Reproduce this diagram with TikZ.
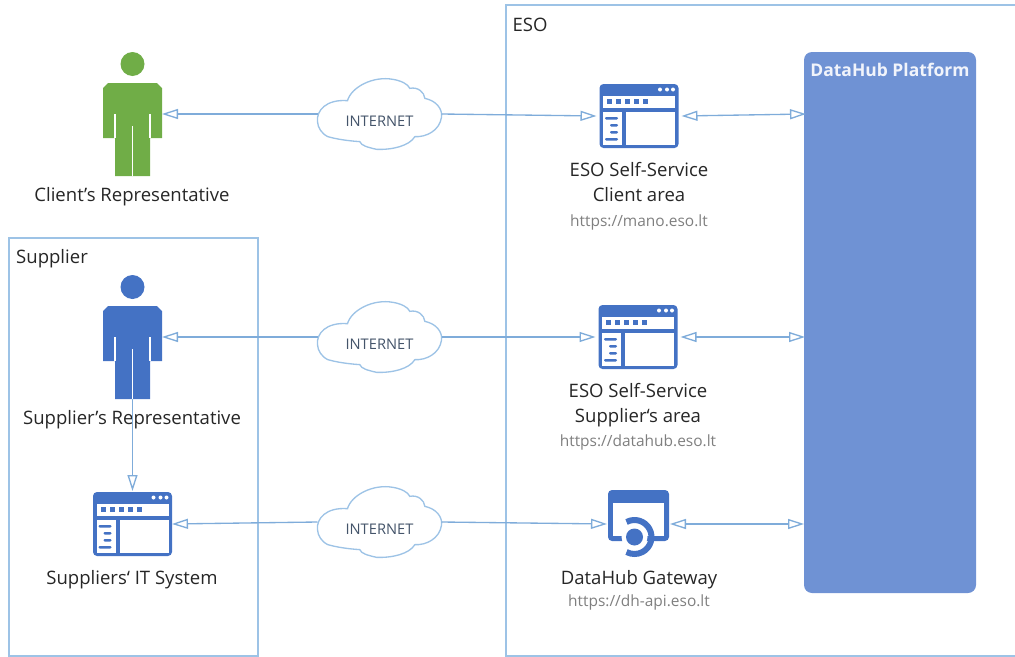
\documentclass[tikz,border=0pt]{standalone}
\usepackage{fontspec}
\setmainfont{Open Sans}
\usetikzlibrary{arrows.meta}
\definecolor{frameblue}{HTML}{9DC3E6}
\definecolor{linkblue}{HTML}{7FACDA}
\definecolor{iconblue}{HTML}{4472C4}
\definecolor{personblue}{HTML}{4472C4}
\definecolor{persongreen}{HTML}{70AD47}
\definecolor{platform}{HTML}{6F92D4}
\definecolor{labelgrey}{HTML}{7F7F7F}
\definecolor{cloudtext}{HTML}{44546A}
\newcommand{\mainsize}{\fontsize{13.9}{16}\selectfont}
\tikzset{
  x=0.75pt,y=-0.75pt,
  frame/.style={draw=frameblue,line width=1pt},
  anchorbox/.style 2 args={inner sep=0pt,outer sep=0pt,minimum width=#1*0.75pt,minimum height=#2*0.75pt},
  link/.style={draw=linkblue,line width=1pt,-{Triangle[open,length=12pt,width=7.5pt,fill=white]}},
  dlink/.style={draw=linkblue,line width=1pt,{Triangle[open,length=12pt,width=7.5pt,fill=white]}-{Triangle[open,length=12pt,width=7.5pt,fill=white]}},
  lbl/.style={inner sep=0pt,anchor=base,font=\mainsize,text=black!85},
  url/.style={inner sep=0pt,anchor=base,font=\fontsize{11.6}{13}\selectfont,text=labelgrey},
  cloudlbl/.style={inner sep=0pt,anchor=base,font=\fontsize{11}{13}\selectfont,text=cloudtext},
  windowicon/.pic={
    \fill[iconblue,rounded corners=3] (-39.5,-32) rectangle (39.5,32);
    \fill[white] (-36,-20) rectangle (36,-8);
    \fill[white] (-36,-4) rectangle (-17,29);
    \fill[white] (-13,-4) rectangle (36,29);
    \foreach \i in {0,1,2,3,4} \fill[iconblue] (-32+9*\i,-17) rectangle (-27+9*\i,-12);
    \foreach \i in {21,28,34} \fill[white] (\i,-26.5) circle (2);
    \fill[iconblue,rounded corners=0.8] (-34,1) rectangle (-21,3.5);
    \fill[iconblue,rounded corners=0.8] (-29,8) rectangle (-21,10.5);
    \fill[iconblue,rounded corners=0.8] (-29,15) rectangle (-21,17.5);
    \fill[iconblue,rounded corners=0.8] (-34,22) rectangle (-21,24.5);
  },
  gatewayicon/.pic={
    \fill[iconblue,rounded corners=3] (-30.5,-34) rectangle (30.5,17);
    \fill[white] (-25.5,-21) rectangle (25.5,12);
    \fill[white] (-4,13) circle (13);
    \fill[iconblue] (-4,13) circle (8.5);
    \draw[iconblue,line width=4.5pt] (-4,13) ++(-118:17) arc[start angle=-118,end angle=118,radius=17];
  },
  personicon/.pic={
    \fill[#1] (0,-50) circle (12);
    \fill[#1] (-24.5,-31) -- (24.5,-31) -- (29.5,-26) -- (29.5,24) -- (17.5,24) -- (17.5,62) -- (-17.5,62) -- (-17.5,24) -- (-29.5,24) -- (-29.5,-26) -- cycle;
    \draw[white,line width=0.8pt] (-17.5,0) -- (-17.5,24) (17.5,0) -- (17.5,24) (0,12) -- (0,62);
  },
  cloudicon/.pic={
    \draw[frameblue,line width=1pt,fill=white,scale=0.3333]
      (-186,23) .. controls (-190,-10) and (-160,-45) .. (-96,-40)
      .. controls (-85,-80) and (-20,-115) .. (40,-104)
      .. controls (65,-100) and (85,-90) .. (91,-77)
      .. controls (115,-82) and (135,-65) .. (136,-47)
      .. controls (170,-40) and (190,-15) .. (186,10)
      .. controls (180,50) and (140,70) .. (106,68)
      .. controls (90,95) and (40,108) .. (-9,106)
      .. controls (-35,100) and (-55,95) .. (-59,83)
      .. controls (-100,80) and (-130,75) .. (-155,68)
      .. controls (-175,58) and (-185,40) .. (-186,23) -- cycle;
  },
}
\begin{document}
\begin{tikzpicture}
\useasboundingbox (0,0) rectangle (1015,657);
% containers
\draw[frame] (1016,5) -- (506,5) -- (506,656) -- (1016,656);
\draw[frame] (9,656) rectangle (258,238);
\node[lbl] (esotitle) at (530,31) {ESO};
\node[lbl] (suptitle) at (52,263) {Supplier};
% platform
\node[anchorbox={172}{541},fill=platform,rounded corners=6] (dh) at (890,322.5) {};
\node[inner sep=0pt,anchor=base,font=\bfseries\fontsize{13.1}{15}\selectfont,text=white!90!platform] (dhtitle) at (890,76.5) {DataHub Platform};
\coordinate (dhA) at (806,114);
\coordinate (dhB) at (805,337);
\coordinate (dhC) at (804,524);
% people
\node[anchorbox={59}{124}] (client) at (132.5,114) {};
\pic at (client.center) {personicon=persongreen};
\node[anchorbox={59}{124}] (supplier) at (132.5,337) {};
\pic at (supplier.center) {personicon=personblue};
% clouds
\node[anchorbox={124}{70}] (c1) at (379.5,114) {};
\pic at (c1.center) {cloudicon};
\node[cloudlbl] (c1t) at (379.5,126.5) {INTERNET};
\node[anchorbox={124}{70}] (c2) at (379.5,337) {};
\pic at (c2.center) {cloudicon};
\node[cloudlbl] (c2t) at (379.5,349) {INTERNET};
\node[anchorbox={124}{70}] (c3) at (379.5,522) {};
\pic at (c3.center) {cloudicon};
\node[cloudlbl] (c3t) at (379.5,534) {INTERNET};
% icons
\node[anchorbox={85}{64}] (w1) at (639,116) {};
\pic at (w1.center) {windowicon};
\node[anchorbox={85}{64}] (w2) at (638,337) {};
\pic at (w2.center) {windowicon};
\node[anchorbox={79}{66}] (w3) at (132.5,524) {};
\pic at (w3.center) {windowicon};
\node[anchorbox={63}{64}] (gw) at (638.5,524) {};
\pic at (gw.center) {gatewayicon};
% labels
\node[lbl] (l1) at (132,201.5) {Client’s Representative};
\node[lbl] (l2) at (132,424) {Supplier’s Representative};
\node[lbl] (l3) at (132,584) {Suppliers‘ IT System};
\node[lbl] (l4) at (639,176.5) {ESO Self-Service};
\node[lbl] (l5) at (639,201.5) {Client area};
\node[url] (u1) at (639,226.5) {https://mano.eso.lt};
\node[lbl] (l6) at (638,397) {ESO Self-Service};
\node[lbl] (l7) at (638,422) {Supplier‘s area};
\node[url] (u2) at (638,446.5) {https://datahub.eso.lt};
\node[lbl] (l8) at (639,584) {DataHub Gateway};
\node[url] (u3) at (639,606.5) {https://dh-api.eso.lt};
% connectors
\draw[link] (c1.west) -- (client.east);
\draw[link] (c1.east) -- (w1.west);
\draw[dlink] (w1.east) -- (dhA);
\draw[link] (c2.west) -- (supplier.east);
\draw[link] (c2.east) -- (w2.west);
\draw[dlink] (w2.east) -- (dhB);
\draw[link] (c3.west) -- (w3.east);
\draw[link] (c3.east) -- (gw.west);
\draw[dlink] (gw.east) -- (dhC);
\draw[link] (supplier.south) -- (w3.north);
\end{tikzpicture}
\end{document}
